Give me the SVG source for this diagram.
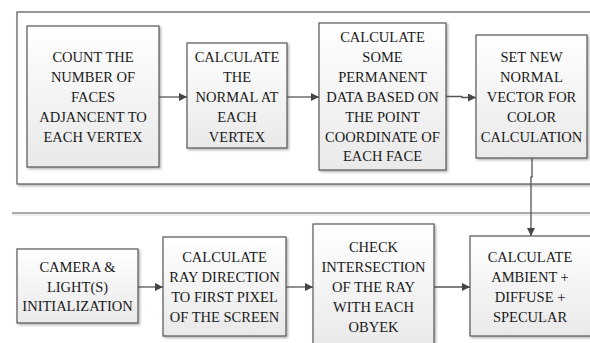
<svg xmlns="http://www.w3.org/2000/svg" width="590" height="343" viewBox="0 0 590 343">
<defs>
<linearGradient id="g" x1="0" y1="0" x2="0" y2="1">
<stop offset="0" stop-color="#ffffff"/>
<stop offset="1" stop-color="#e9e9e9"/>
</linearGradient>
<marker id="ah" viewBox="0 0 10 10" refX="10" refY="5" markerWidth="8" markerHeight="8" markerUnits="userSpaceOnUse" orient="auto">
<path d="M0,0 L10,5 L0,10 z" fill="#444"/>
</marker>
<filter id="sh" x="-10%" y="-10%" width="130%" height="130%">
<feDropShadow dx="1.5" dy="1.5" stdDeviation="0.8" flood-color="#000" flood-opacity="0.3"/>
</filter>
</defs>
<style>
.box{fill:url(#g);stroke:#555;stroke-width:1.2;filter:url(#sh)}
.frame{fill:#fff;stroke:#555;stroke-width:1.2;filter:url(#sh)}
.t{font-size:14.5px;fill:#1a1a1a;text-anchor:middle}
.c{stroke:#555;stroke-width:1.3;fill:none;marker-end:url(#ah)}
</style>
<rect width="590" height="343" fill="#fff"/>
<g id="frame-top"><rect class="frame" x="17" y="12" width="590" height="172"/></g>
<g id="separator"><line x1="12" y1="213" x2="590" y2="213" stroke="#555" stroke-width="1.2"/><line x1="12" y1="215" x2="590" y2="215" stroke="#ddd" stroke-width="1.2"/></g>

<g font-family="Liberation Serif, Times New Roman, DejaVu Serif, serif">
<g id="n1"><rect class="box" x="27" y="26" width="132" height="141"/>
<text class="t"><tspan x="93" y="62">COUNT THE</tspan><tspan x="93" y="82">NUMBER OF</tspan><tspan x="93" y="102">FACES</tspan><tspan x="93" y="122">ADJANCENT TO</tspan><tspan x="93" y="142">EACH VERTEX</tspan></text></g>

<g id="n2"><rect class="box" x="187" y="43" width="100" height="105"/>
<text class="t"><tspan x="237" y="62">CALCULATE</tspan><tspan x="237" y="82">THE</tspan><tspan x="237" y="102">NORMAL AT</tspan><tspan x="237" y="122">EACH</tspan><tspan x="237" y="142">VERTEX</tspan></text></g>

<g id="n3"><rect class="box" x="319" y="23" width="127" height="147"/>
<text class="t"><tspan x="382.5" y="42">CALCULATE</tspan><tspan x="382.5" y="62">SOME</tspan><tspan x="382.5" y="82">PERMANENT</tspan><tspan x="382.5" y="102">DATA BASED ON</tspan><tspan x="382.5" y="122">THE POINT</tspan><tspan x="382.5" y="142">COORDINATE OF</tspan><tspan x="382.5" y="161">EACH FACE</tspan></text></g>

<g id="n4"><rect class="box" x="476" y="35" width="111" height="123"/>
<text class="t"><tspan x="531.5" y="62">SET NEW</tspan><tspan x="531.5" y="82">NORMAL</tspan><tspan x="531.5" y="102">VECTOR FOR</tspan><tspan x="531.5" y="122">COLOR</tspan><tspan x="531.5" y="142">CALCULATION</tspan></text></g>

<g id="n5"><rect class="box" x="17" y="249" width="121" height="74"/>
<text class="t"><tspan x="77.5" y="272">CAMERA &amp;</tspan><tspan x="77.5" y="292">LIGHT(S)</tspan><tspan x="77.5" y="311">INITIALIZATION</tspan></text></g>

<g id="n6"><rect class="box" x="163" y="237" width="123" height="99"/>
<text class="t"><tspan x="224.5" y="262">CALCULATE</tspan><tspan x="224.5" y="282">RAY DIRECTION</tspan><tspan x="224.5" y="302">TO FIRST PIXEL</tspan><tspan x="224.5" y="322">OF THE SCREEN</tspan></text></g>

<g id="n7"><rect class="box" x="313" y="224" width="121" height="125"/>
<text class="t"><tspan x="373.5" y="252">CHECK</tspan><tspan x="373.5" y="272">INTERSECTION</tspan><tspan x="373.5" y="292">OF THE RAY</tspan><tspan x="373.5" y="312">WITH EACH</tspan><tspan x="373.5" y="332">OBYEK</tspan></text></g>

<g id="n8"><rect class="box" x="470" y="236" width="130" height="100"/>
<text class="t"><tspan x="530" y="262">CALCULATE</tspan><tspan x="530" y="282">AMBIENT +</tspan><tspan x="530" y="302">DIFFUSE +</tspan><tspan x="530" y="322">SPECULAR</tspan></text></g>
</g>

<g id="connectors">
<line class="c" x1="159" y1="97" x2="187" y2="97"/>
<line class="c" x1="287" y1="97" x2="319" y2="97"/>
<polyline class="c" points="446,96.5 462,96.5 462,97.5 476,97.5"/>
<polyline class="c" points="532,158 532,177 531,177 531,236"/>
<line class="c" x1="138" y1="287" x2="163" y2="287"/>
<line class="c" x1="286" y1="287" x2="313" y2="287"/>
<line class="c" x1="434" y1="287" x2="470" y2="287"/>
</g>
</svg>
